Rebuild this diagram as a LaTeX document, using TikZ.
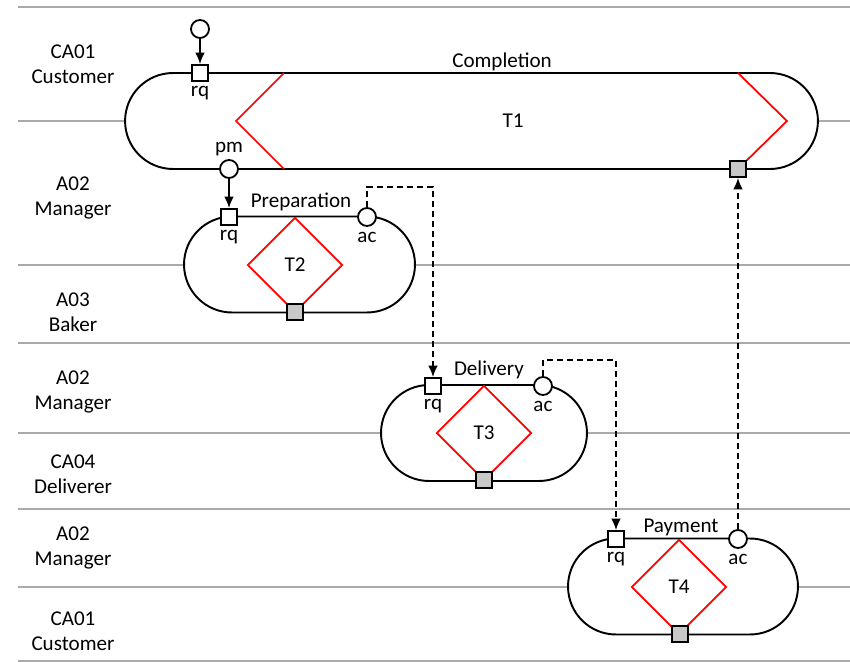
\documentclass[tikz,border=0pt]{standalone}
\usepackage{fontspec}
\setmainfont{Carlito}
\usetikzlibrary{positioning,shapes,arrows,arrows.meta}
\definecolor{lanegray}{RGB}{170,170,170}
\definecolor{boxgray}{RGB}{200,200,200}
\tikzstyle{lane} = [draw=lanegray, line width=1.2pt]
\tikzstyle{actor} = [align=center]
\tikzstyle{trans} = [rounded rectangle, draw=black, fill=white, line width=1.1pt, minimum height=1.92cm, inner sep=0pt]
\tikzstyle{kind} = [diamond, draw=red, line width=1pt, minimum width=1.9cm, minimum height=1.9cm, inner sep=0pt]
\tikzstyle{chevron} = [draw=red, line width=1pt]
\tikzstyle{rqbox} = [rectangle, draw=black, fill=white, line width=1.05pt, minimum size=0.32cm, inner sep=0pt]
\tikzstyle{exbox} = [rqbox, fill=boxgray]
\tikzstyle{acdot} = [circle, draw=black, fill=white, line width=1.05pt, minimum size=0.36cm, inner sep=0pt]
\tikzstyle{connect} = [line width=1.05pt,-{Latex[length=6.5pt,width=5.5pt]}]
\tikzstyle{wait} = [connect, dash pattern=on 3.4pt off 2.3pt]
\begin{document}
\begin{tikzpicture}[x=0.02cm, y=-0.02cm, node distance=0.4cm, font=\fontsize{12}{14.2}\selectfont]
			\useasboundingbox (0,0) rectangle (850,662);
			% lanes
			\foreach \y in {7,121,265,343,433,509,587,661}
				\draw [lane] (18,\y) -- (850,\y);
			\node (lane1) [actor] at (73,64) {CA01\\Customer};
			\node (lane2) [actor] at (73,198) {A02\\Manager};
			\node (lane3) [actor] at (73,312) {A03\\Baker};
			\node (lane4) [actor] at (73,392) {A02\\Manager};
			\node (lane5) [actor] at (73,474) {CA04\\Deliverer};
			\node (lane6) [actor] at (73,548) {A02\\Manager};
			\node (lane7) [actor] at (73,631) {CA01\\Customer};
			
			% T1
			\node (t1) [trans, minimum width=13.86cm] at (471.5,121) {};
			\node (t1txt) at (513,121) {T1};
			\node (t1name) at (502,62) {Completion};
			\draw [chevron] (284,73) -- (236,121) -- (284,169);
			\draw [chevron] (738,73) -- (787,121) -- (738,169);
			\node (start) [acdot] at (200,29) {};
			\node (rq1) [rqbox] at (200,73) {};
			\node [below of=rq1] {rq};
			\node (pm1) [acdot] at (229,169) {};
			\node [above of=pm1] {pm};
			\node (ex1) [exbox] at (738,169) {};
			
			% T2
			\node (t2) [trans, minimum width=4.62cm] at (299.5,264.5) {};
			\node (t2k) [kind] at (295,265) {T2};
			\node (t2name) at (301,202) {Preparation};
			\node (rq2) [rqbox] at (229,217) {};
			\node [below of=rq2] {rq};
			\node (ac2) [acdot] at (367,217) {};
			\node [below of=ac2] {ac};
			\node (ex2) [exbox] at (295,312) {};
			
			% T3
			\node (t3) [trans, minimum width=4.12cm] at (484,433) {};
			\node (t3k) [kind] at (484,433) {T3};
			\node (t3name) at (489,370) {Delivery};
			\node (rq3) [rqbox] at (433,386) {};
			\node [below of=rq3] {rq};
			\node (ac3) [acdot] at (543,386) {};
			\node [below of=ac3] {ac};
			\node (ex3) [exbox] at (484,480) {};
			
			% T4
			\node (t4) [trans, minimum width=4.6cm] at (683,586.5) {};
			\node (t4k) [kind] at (679,587) {T4};
			\node (t4name) at (681,527) {Payment};
			\node (rq4) [rqbox] at (616,539) {};
			\node [below of=rq4] {rq};
			\node (ac4) [acdot] at (738,539) {};
			\node [below of=ac4] {ac};
			\node (ex4) [exbox] at (680,634) {};
			
			\coordinate (bend2) at (433,187);
			\coordinate (bend3) at (616,360);
			\draw [connect] (start) -- (rq1);
			\draw [connect] (pm1) -- (rq2);
			\draw [wait] (ac2.north) |- (bend2) -- (rq3.north);
			\draw [wait] (ac3.north) |- (bend3) -- (rq4.north);
			\draw [wait] (ac4.north) -- (ex1.south);
			\end{tikzpicture}
\end{document}
